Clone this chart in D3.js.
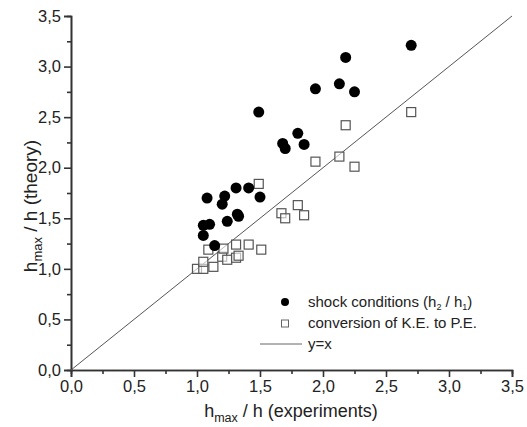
<!DOCTYPE html>
<html>
<head>
<meta charset="utf-8">
<script src="https://cdn.jsdelivr.net/npm/d3@7"></script>
<style>
  body { margin: 0; background: #fff; }
  svg text { font-family: "Liberation Sans", Arial, sans-serif; fill: #222; }
</style>
</head>
<body>
<div id="chart"></div>
<script>
// shock conditions (h2 / h1)
const shockX = [1.05, 1.05, 1.10, 1.08, 1.14, 1.20, 1.22, 1.24, 1.31, 1.32, 1.33, 1.41, 1.50, 1.49, 1.68, 1.70, 1.80, 1.85, 1.94, 2.13, 2.18, 2.25, 2.70];
const shockY = [1.33, 1.43, 1.44, 1.70, 1.23, 1.64, 1.72, 1.47, 1.80, 1.54, 1.52, 1.80, 1.71, 2.55, 2.24, 2.19, 2.34, 2.23, 2.78, 2.83, 3.09, 2.75, 3.21];
// conversion of K.E. to P.E.
const convX = [1.00, 1.05, 1.05, 1.13, 1.09, 1.20, 1.21, 1.24, 1.31, 1.33, 1.31, 1.41, 1.51, 1.49, 1.67, 1.70, 1.80, 1.85, 1.94, 2.13, 2.18, 2.25, 2.70];
const convY = [1.00, 1.00, 1.07, 1.02, 1.19, 1.12, 1.20, 1.09, 1.11, 1.13, 1.24, 1.24, 1.19, 1.84, 1.55, 1.50, 1.63, 1.53, 2.06, 2.11, 2.42, 2.01, 2.55];
const identity = [0, 3.5];
const majorTicks = [0, 0.5, 1.0, 1.5, 2.0, 2.5, 3.0, 3.5];
const minorTicks = [0.25, 0.75, 1.25, 1.75, 2.25, 2.75, 3.25];

let margin = { top: 16, left: 71, right: 15, bottom: 57 },
  width = 527 - margin.left - margin.right,
  height = 427 - margin.top - margin.bottom;

let svg = d3.select("#chart")
  .append("svg")
  .attr("width", 527)
  .attr("height", 427);

let g = svg.append("g")
  .attr("transform", "translate(" + margin.left + "," + margin.top + ")");

let xScale = d3.scaleLinear().domain([0, 3.5]).range([0, width]);
let yScale = d3.scaleLinear().domain([0, 3.5]).range([height, 0]);
let fmt = d => d3.format(".1f")(d).replace(".", ",");

// minor ticks first, then major axes on top
g.append("g")
  .attr("class", "axis")
  .attr("transform", "translate(0," + height + ")")
  .call(d3.axisBottom(xScale).tickValues(minorTicks).tickSize(4).tickFormat(""));
g.append("g")
  .attr("class", "axis")
  .call(d3.axisLeft(yScale).tickValues(minorTicks).tickSize(4).tickFormat(""));

let xAxis = g.append("g")
  .attr("class", "axis")
  .attr("transform", "translate(0," + height + ")")
  .call(d3.axisBottom(xScale).tickValues(majorTicks).tickSize(7).tickPadding(3).tickFormat(fmt));

let yAxis = g.append("g")
  .attr("class", "axis")
  .call(d3.axisLeft(yScale).tickValues(majorTicks).tickSize(7).tickPadding(3).tickFormat(fmt));

g.selectAll(".axis path, .axis line")
  .attr("stroke", "#333")
  .attr("stroke-width", 1.6);
g.selectAll(".axis text")
  .attr("font-size", 16.5)
  .attr("font-family", "Liberation Sans, Arial, sans-serif")
  .attr("fill", "#222");

// axis titles
let xLabel = svg.append("text")
  .attr("x", 291)
  .attr("y", 417)
  .attr("text-anchor", "middle")
  .attr("font-size", 18);
xLabel.append("tspan").text("h");
xLabel.append("tspan").attr("font-size", 12.5).attr("dy", 5).text("max");
xLabel.append("tspan").attr("dy", -5).text(" / h (experiments)");

let yLabel = svg.append("text")
  .attr("transform", "translate(37,206) rotate(-90)")
  .attr("text-anchor", "middle")
  .attr("font-size", 19);
yLabel.append("tspan").text("h");
yLabel.append("tspan").attr("font-size", 13).attr("dy", 5).text("max");
yLabel.append("tspan").attr("dy", -5).text(" / h (theory)");

// y = x line
g.append("line")
  .attr("x1", xScale(identity[0]))
  .attr("y1", yScale(identity[0]))
  .attr("x2", xScale(identity[1]))
  .attr("y2", yScale(identity[1]))
  .attr("stroke", "#555")
  .attr("stroke-width", 1);

// squares
g.append("g")
  .selectAll("rect")
  .data(convX.map((x, i) => ({ x: x, y: convY[i] })))
  .enter()
  .append("rect")
  .attr("x", d => xScale(d.x) - 4.5)
  .attr("y", d => yScale(d.y) - 4.5)
  .attr("width", 9)
  .attr("height", 9)
  .attr("fill", "#fff")
  .attr("fill-opacity", 0.6)
  .attr("stroke", "#555")
  .attr("stroke-width", 1.2);

// circles
g.append("g")
  .selectAll("circle")
  .data(shockX.map((x, i) => ({ x: x, y: shockY[i] })))
  .enter()
  .append("circle")
  .attr("cx", d => xScale(d.x))
  .attr("cy", d => yScale(d.y))
  .attr("r", 5.5)
  .attr("fill", "#000");

// legend
let legend = svg.append("g").attr("transform", "translate(285,302)");
legend.append("circle").attr("cx", 0).attr("cy", 0).attr("r", 4).attr("fill", "#000");
legend.append("rect").attr("x", -3.5).attr("y", 18).attr("width", 7).attr("height", 7)
  .attr("fill", "#fff").attr("stroke", "#666").attr("stroke-width", 1);
legend.append("line").attr("x1", -25).attr("x2", 17).attr("y1", 42).attr("y2", 42)
  .attr("stroke", "#666").attr("stroke-width", 1);

let t1 = legend.append("text").attr("x", 23).attr("y", 5).attr("font-size", 15);
t1.append("tspan").text("shock conditions (h");
t1.append("tspan").attr("font-size", 9).attr("dy", 3).text("2");
t1.append("tspan").attr("dy", -3).text(" / h");
t1.append("tspan").attr("font-size", 9).attr("dy", 3).text("1");
t1.append("tspan").attr("dy", -3).text(")");
legend.append("text").attr("x", 23).attr("y", 26).attr("font-size", 15).text("conversion of K.E. to P.E.");
legend.append("text").attr("x", 23).attr("y", 47).attr("font-size", 15).text("y=x");
</script>
</body>
</html>
